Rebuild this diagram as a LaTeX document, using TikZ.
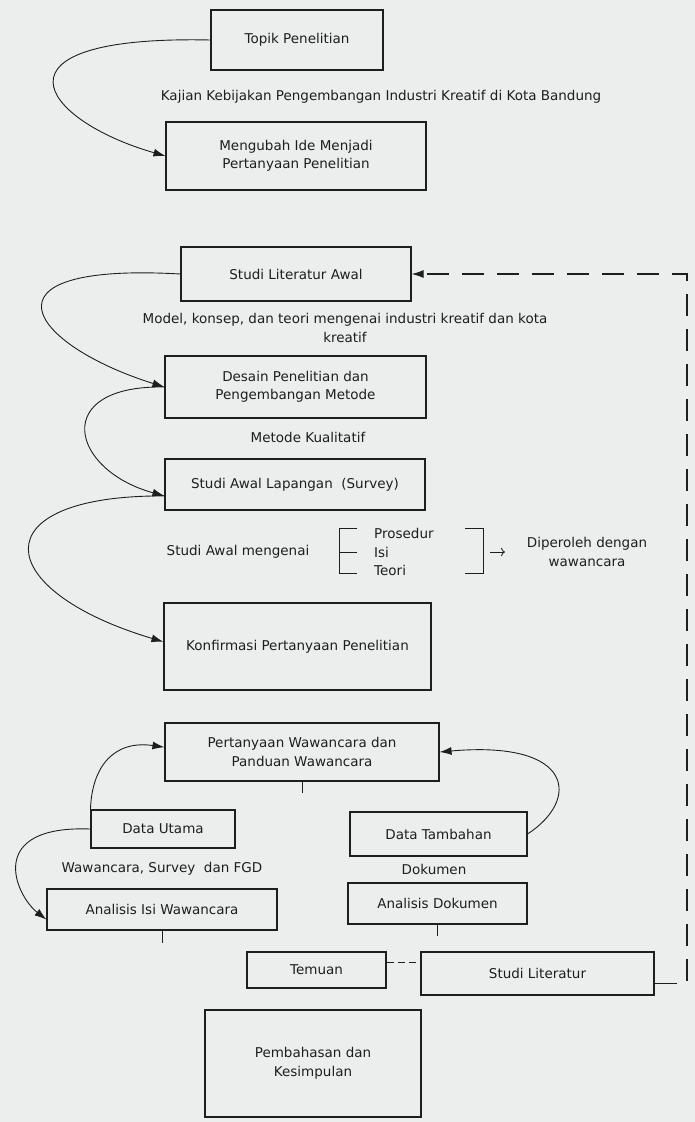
\documentclass[tikz,border=0pt]{standalone}
\usepackage{fontspec}
\setmainfont{DejaVu Sans}
\usetikzlibrary{arrows.meta}
\definecolor{paper}{RGB}{236,238,238}
\definecolor{ink}{RGB}{30,30,30}

\begin{document}
\begin{tikzpicture}[x=1pt,y=1pt,>={Latex[length=12pt,width=8pt]},
  every node/.style={font=\fontsize{13.5}{18.5}\selectfont, text=ink},
  main/.style = {draw=ink, line width=1.1pt, align=center, inner sep=0pt},
  lbl/.style = {align=center, inner sep=0pt},
  flow/.style = {->, draw=ink, line width=0.9pt},
  feedback/.style = {->, draw=ink, line width=1.1pt, dash pattern=on 22pt off 13pt}]
\path[use as bounding box, fill=paper] (0,0) rectangle (695,-1122);

% boxes
\node[main, minimum width=172, minimum height=60] (topik) at (297,-40) {Topik Penelitian};
\node[main, minimum width=260, minimum height=68] (ide) at (296,-156) {Mengubah Ide Menjadi\\Pertanyaan Penelitian};
\node[main, minimum width=230, minimum height=54] (litawal) at (296,-274) {Studi Literatur Awal};
\node[main, minimum width=261, minimum height=62] (desain) at (295.5,-387) {Desain Penelitian dan\\Pengembangan Metode};
\node[main, minimum width=260, minimum height=51] (survei) at (295,-484.5) {Studi Awal Lapangan\ \ (Survey)};
\node[main, minimum width=267, minimum height=87] (konfirmasi) at (297.5,-646.5) {Konfirmasi Pertanyaan Penelitian};
\node[main, minimum width=274, minimum height=58] (wawancara) at (302,-752) {Pertanyaan Wawancara dan\\Panduan Wawancara};
\node[main, minimum width=144, minimum height=38] (utama) at (163,-829) {Data Utama};
\node[main, minimum width=177, minimum height=44] (tambahan) at (438.5,-834) {Data Tambahan};
\node[main, minimum width=230, minimum height=41] (anisi) at (162,-909.5) {Analisis Isi Wawancara};
\node[main, minimum width=179, minimum height=41] (andok) at (437.5,-903.5) {Analisis Dokumen};
\node[main, minimum width=139, minimum height=36] (temuan) at (316.5,-970) {Temuan};
\node[main, minimum width=233, minimum height=43] (studilit) at (537.5,-973.5) {Studi Literatur};
\node[main, minimum width=216, minimum height=107] (bahas) at (313,-1063.5) {Pembahasan dan\\Kesimpulan};

% labels
\node[lbl] (kajian) at (381,-97) {Kajian Kebijakan Pengembangan Industri Kreatif di Kota Bandung};
\node[lbl] (model) at (345,-328) {Model, konsep, dan teori mengenai industri kreatif dan kota\\kreatif};
\node[lbl] (kualitatif) at (308,-437) {Metode Kualitatif};
\node[lbl] (mengenai) at (238,-552) {Studi Awal mengenai};
\node[lbl, anchor=west] (prosedur) at (374,-533) {Prosedur};
\node[lbl, anchor=west] (isi) at (374,-552) {Isi};
\node[lbl, anchor=west] (teori) at (374,-570) {Teori};
\node[lbl] (diperoleh) at (587,-552) {Diperoleh dengan\\wawancara};
\node[lbl] (fgd) at (162,-869) {Wawancara, Survey\ \ dan FGD};
\node[lbl] (dokumen) at (434,-869) {Dokumen};

% brackets
\draw[ink, line width=0.9pt] (357,-528) -- (339,-528) -- (339,-573) -- (357,-573);
\draw[ink, line width=0.9pt] (339,-552) -- (357,-552);
\draw[ink, line width=0.9pt] (465,-528) -- (483,-528) -- (483,-573) -- (465,-573);
\coordinate (arrA) at (490,-552);
\coordinate (arrB) at (505,-552);
\draw[ink, line width=0.8pt, -{To[length=4pt]}] (arrA) -- (arrB);

% curved arrows
\draw[flow] (topik.west) .. controls (-20,-35) and (40,-120) .. (ide.west);
\draw[flow] (litawal.west) .. controls (-30,-262) and (30,-345) .. (desain.west);
\draw[flow] (desain.west) .. controls (50,-385) and (70,-470) .. (survei.185);
\draw[flow] (survei.185) .. controls (-20,-495) and (-10,-590) .. (konfirmasi.178);
\draw[flow] (utama.north west) .. controls (92,-765) and (115,-740) .. (wawancara.178);
\draw[flow] (utama.west) .. controls (-15,-825) and (15,-895) .. (anisi.185);
\draw[flow] (tambahan.east) .. controls (580,-800) and (575,-740) .. (wawancara.east);

% ticks
\draw[ink, line width=0.9pt] (wawancara.south) -- ++(0,-11);
\draw[ink, line width=0.9pt] (anisi.south) -- ++(0,-12);
\draw[ink, line width=0.9pt] (andok.south) -- ++(0,-11);

% feedback
\coordinate (fbtop) at (687,-274);
\draw[feedback] (studilit.355) -- (studilit.355 -| fbtop) -- (fbtop) -- (litawal.east);
\draw[ink, line width=1pt, dash pattern=on 7pt off 4pt] (temuan.6) -- (temuan.6 -| studilit.west);
\end{tikzpicture}
\end{document}
